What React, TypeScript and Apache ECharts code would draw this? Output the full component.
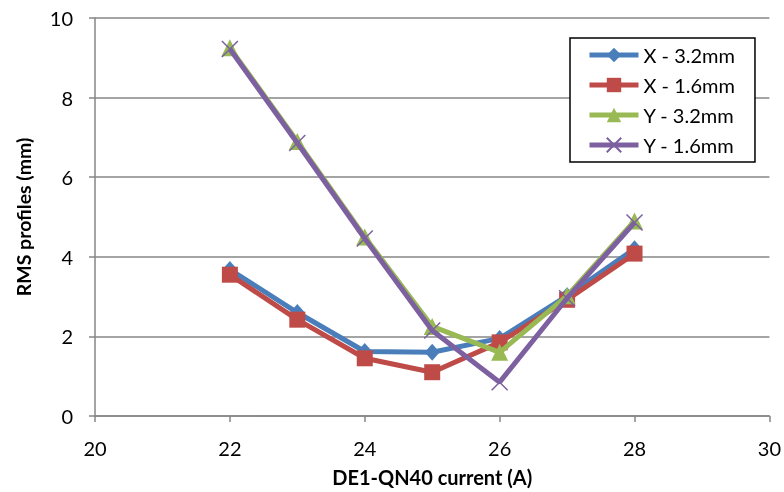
import React, { useEffect, useRef } from "react";
import * as echarts from "echarts";

const currents = [22, 23, 24, 25, 26, 27, 28];
const x32 = [3.68, 2.6, 1.62, 1.6, 1.95, 3.02, 4.2];
const x16 = [3.55, 2.42, 1.45, 1.1, 1.85, 2.92, 4.08];
const y32 = [9.25, 6.9, 4.5, 2.25, 1.6, 3.02, 4.9];
const y16 = [9.22, 6.86, 4.46, 2.15, 0.85, 2.96, 4.86];
const seriesNames = ["X - 3.2mm", "X - 1.6mm", "Y - 3.2mm", "Y - 1.6mm"];
const colors = ["#4a7ebb", "#be4b48", "#98b954", "#7d60a0"];

const FONT = "Lato";

export default function App() {
  const ref = useRef<HTMLDivElement>(null);
  useEffect(() => {
    if (!ref.current) return;
    const chart = echarts.init(ref.current, null, { renderer: "svg" });
    const pair = (ys: number[]) => currents.map((c, i) => [c, ys[i]]);
    const datasets = [x32, x16, y32, y16];
    const symbols = [
      "diamond",
      "rect",
      "triangle",
      "path://M0,0L10,10M10,0L0,10",
    ];
    const sizes = [[15, 17], 16, 17, 16];
    chart.setOption({
      animation: false,
      textStyle: { fontFamily: FONT },
      grid: { left: 95, right: 14, top: 18, bottom: 76, containLabel: false },
      legend: {
        orient: "vertical",
        left: 570,
        top: 38,
        padding: [7, 20, 7, 17],
        itemWidth: 49,
        itemHeight: 18,
        itemGap: 10,
        backgroundColor: "#ffffff",
        borderColor: "#000000",
        borderWidth: 1.5,
        borderRadius: 0,
        lineStyle: { width: 5 },
        textStyle: { fontFamily: FONT, fontSize: 20, color: "#000" },
        data: seriesNames,
      },
      xAxis: {
        type: "value",
        min: 20,
        max: 30,
        interval: 2,
        name: "DE1-QN40 current (A)",
        nameLocation: "middle",
        nameGap: 51,
        nameTextStyle: { fontFamily: FONT, fontSize: 20, fontWeight: "bold", color: "#000" },
        axisLine: { show: true, lineStyle: { color: "#868686", width: 1.5 } },
        axisTick: { show: true, length: 6, lineStyle: { color: "#868686", width: 1.5 } },
        axisLabel: { fontFamily: FONT, fontSize: 20, color: "#000", margin: 22 },
        splitLine: { show: false },
      },
      yAxis: {
        type: "value",
        min: 0,
        max: 10,
        interval: 2,
        name: "RMS profiles (mm)",
        nameLocation: "middle",
        nameGap: 62,
        nameTextStyle: { fontFamily: FONT, fontSize: 19.5, fontWeight: "bold", color: "#000" },
        axisLine: { show: true, lineStyle: { color: "#868686", width: 1.5 } },
        axisTick: { show: true, length: 6, lineStyle: { color: "#868686", width: 1.5 } },
        axisLabel: { fontFamily: FONT, fontSize: 20, color: "#000", margin: 22 },
        splitLine: { show: true, lineStyle: { color: "#868686", width: 1.5 } },
      },
      series: datasets.map((ys, i) => ({
        name: seriesNames[i],
        type: "line",
        data: pair(ys),
        symbol: symbols[i],
        symbolSize: sizes[i],
        lineStyle: { color: colors[i], width: 5 },
        itemStyle:
          i === 3
            ? { color: colors[i], borderColor: colors[i], borderWidth: 1.5 }
            : { color: colors[i] },
        z: 2 + i,
      })),
    });
    return () => chart.dispose();
  }, []);
  return (
    <div
      ref={ref}
      style={{ position: "fixed", left: 0, top: 0, width: 784, height: 492 }}
    />
  );
}
